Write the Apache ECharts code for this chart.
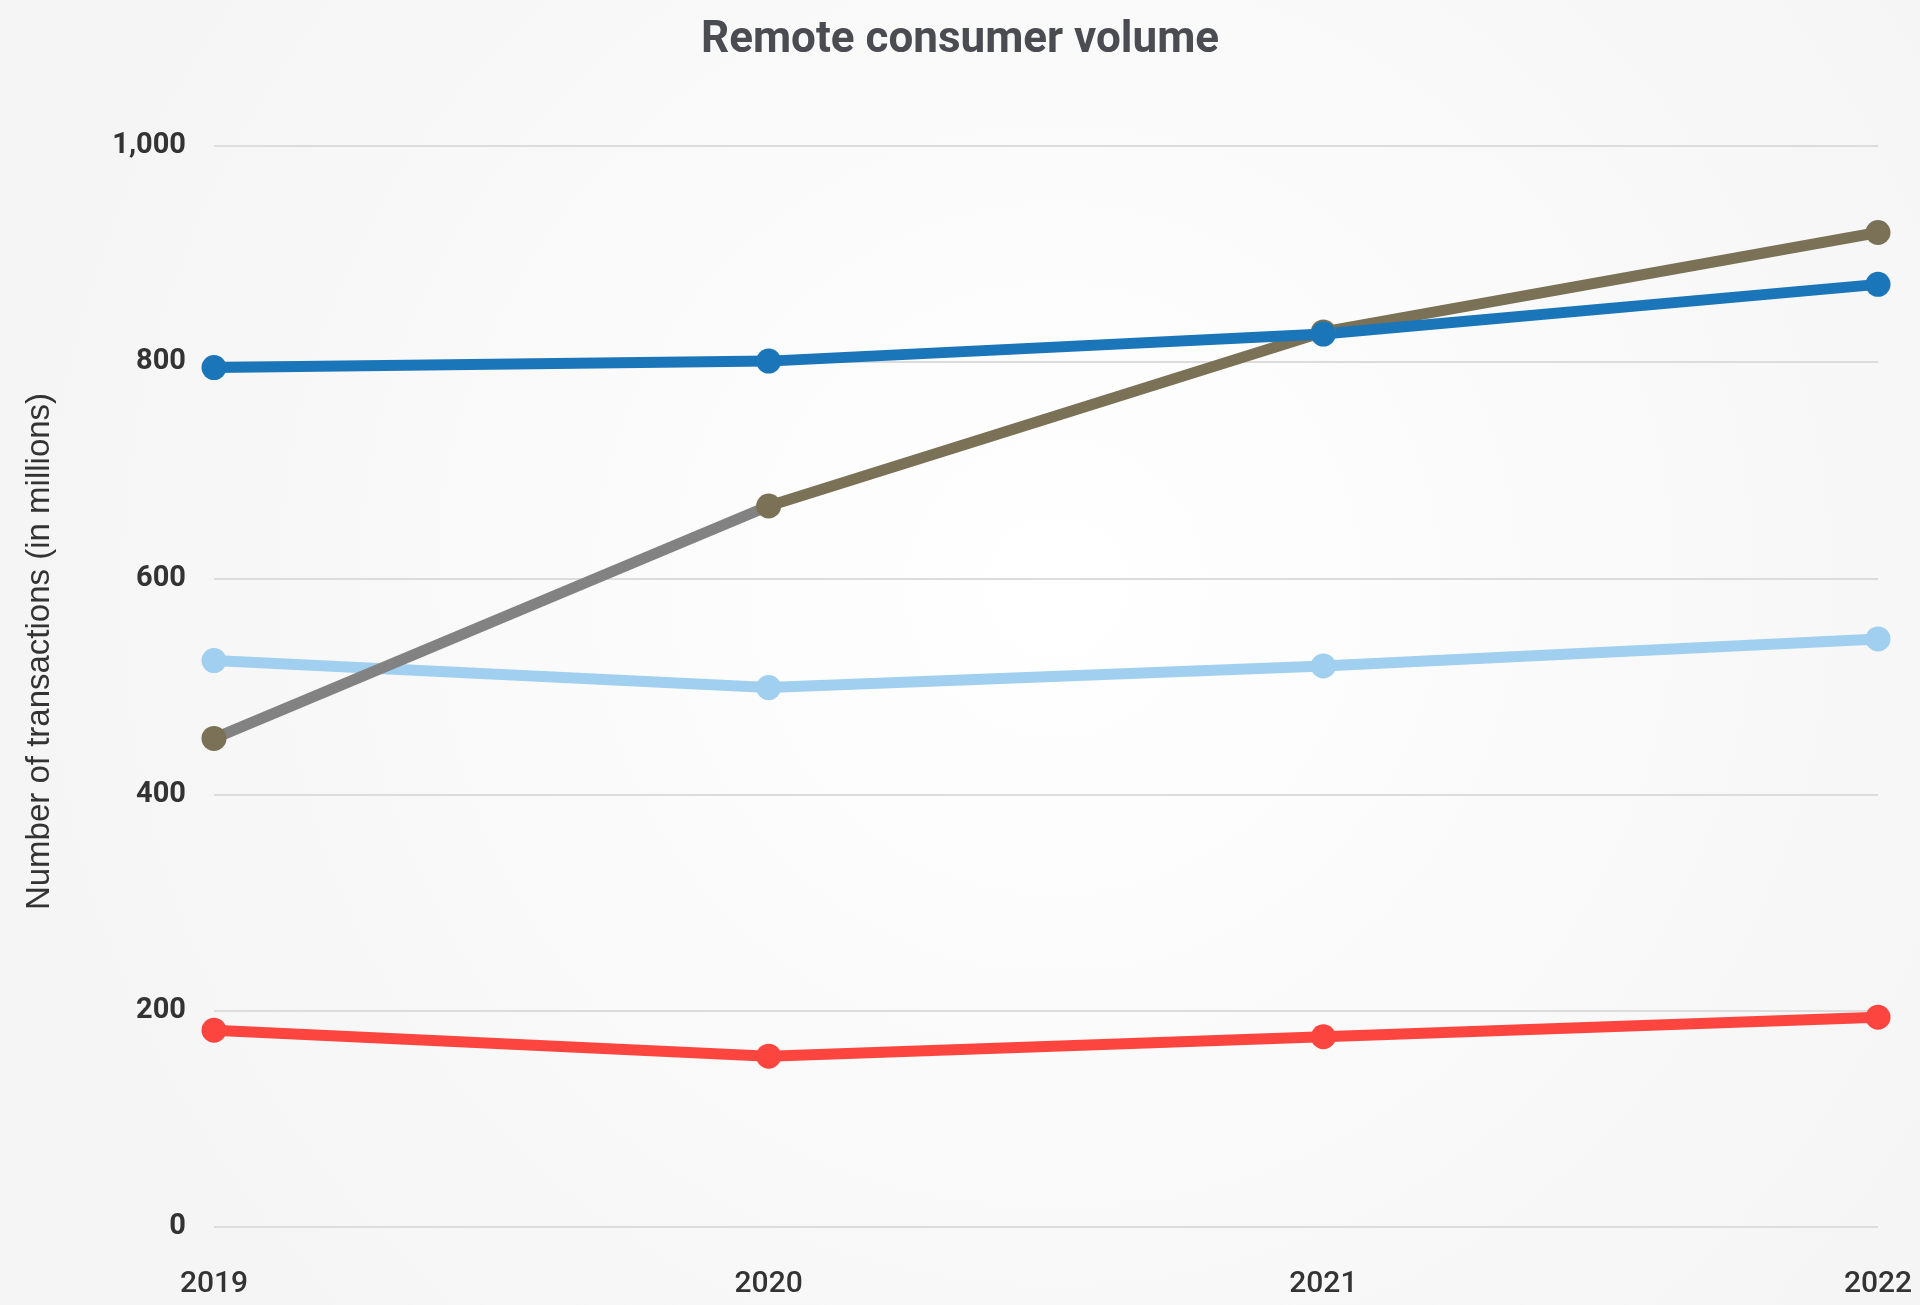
<!DOCTYPE html>
<html>
<head>
<meta charset="utf-8">
<script src="https://cdn.jsdelivr.net/npm/echarts@6/dist/echarts.min.js"></script>
<style>
  html, body { margin: 0; padding: 0; background: #fafafa; }
  #chart { width: 1920px; height: 1305px; }
</style>
</head>
<body>
<div id="chart"></div>
<script>
// Remote consumer transactions, millions
const years = ['2019', '2020', '2021', '2022'];
const seriesBlue = [795, 801, 826, 872];
const seriesOlive = [452, 667, 828, 920];
const seriesLightBlue = [524, 499, 519, 544];
const seriesRed = [182, 158, 176, 194];
const yTicks = [0, 200, 400, 600, 800, 1000];

const chart = echarts.init(document.getElementById('chart'));

function lineSeries(name, data, color, lineColor) {
  return {
    name: name,
    type: 'line',
    data: data,
    symbol: 'circle',
    symbolSize: 25,
    lineStyle: { width: 11, color: lineColor || color, cap: 'round' },
    itemStyle: { color: color },
    emphasis: { disabled: true },
    z: 2
  };
}

// first segment of the olive series is drawn grey
const oliveLine = {
  type: 'linear', x: 0, y: 0, x2: 1, y2: 0,
  colorStops: [
    { offset: 0, color: '#828282' },
    { offset: 1 / 3, color: '#828282' },
    { offset: 1 / 3, color: '#7a7156' },
    { offset: 1, color: '#7a7156' }
  ]
};

chart.setOption({
  backgroundColor: {
    type: 'radial', x: 0.55, y: 0.45, r: 0.8,
    colorStops: [
      { offset: 0, color: '#ffffff' },
      { offset: 1, color: '#f5f5f5' }
    ]
  },
  animation: false,
  title: {
    text: 'Remote consumer volume',
    left: 'center',
    top: 14,
    textStyle: {
      fontFamily: 'Roboto',
      fontWeight: 'bold',
      fontSize: 44,
      color: '#4a4c52'
    }
  },
  grid: { left: 214, right: 42, top: 146, bottom: 78 },
  xAxis: {
    type: 'category',
    data: years,
    boundaryGap: false,
    axisLine: { show: false },
    axisTick: { show: false },
    axisLabel: {
      margin: 42,
      fontFamily: 'Roboto',
      fontWeight: 500,
      fontSize: 30,
      color: '#333333'
    }
  },
  yAxis: {
    type: 'value',
    min: yTicks[0],
    max: yTicks[yTicks.length - 1],
    interval: 200,
    name: 'Number of transactions (in millions)',
    nameLocation: 'middle',
    nameGap: 158,
    nameTextStyle: {
      fontFamily: 'Liberation Sans',
      fontSize: 33,
      color: '#333333',
      padding: [0, 0, 0, 70]
    },
    axisLine: { show: false },
    axisTick: { show: false },
    splitLine: { lineStyle: { color: '#dcdcdc', width: 2 } },
    axisLabel: {
      margin: 28,
      fontFamily: 'Roboto',
      fontWeight: 'bold',
      fontSize: 29,
      color: '#333333',
      formatter: v => v.toLocaleString('en-US')
    }
  },
  series: [
    lineSeries('Light blue', seriesLightBlue, '#a0cfef'),
    lineSeries('Red', seriesRed, '#fd4540'),
    lineSeries('Olive', seriesOlive, '#7a7156', oliveLine),
    lineSeries('Blue', seriesBlue, '#1b75b9')
  ]
});
</script>
</body>
</html>
